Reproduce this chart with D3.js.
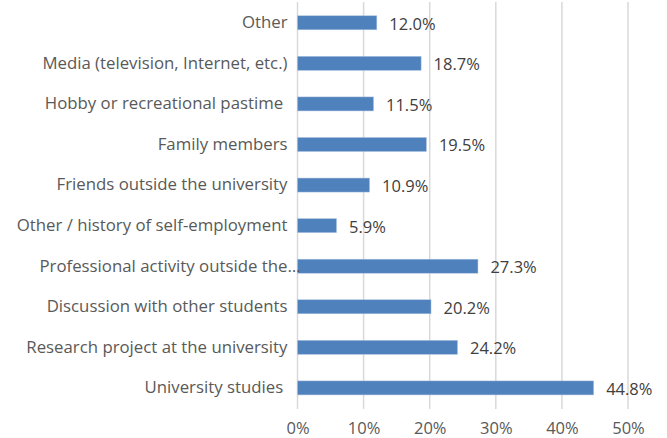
<!DOCTYPE html>
<html><head><meta charset="utf-8">
<script src="https://cdn.jsdelivr.net/npm/d3@7"></script>
<style>body{margin:0;background:#fff}svg{display:block}text{white-space:pre}</style>
</head><body>
<svg id="chart" width="667" height="438"></svg>
<script>
const categories = ["Other","Media (television, Internet, etc.)","Hobby or recreational pastime ","Family members","Friends outside the university","Other / history of self-employment","Professional activity outside the…","Discussion with other students","Research project at the university","University studies "];
const values = [12.0,18.7,11.5,19.5,10.9,5.9,27.3,20.2,24.2,44.8];
const tickValues = [0,10,20,30,40,50];

const svg = d3.select("#chart");
const x = d3.scaleLinear().domain([0,50]).range([297.5,628]);
const y = d3.scaleBand().domain(categories).range([2.4,408.3]).paddingInner(0.655).paddingOuter(0.33);
const font = "'Open Sans', sans-serif";

// grid
svg.append("g").selectAll("line").data(tickValues).join("line")
  .attr("x1",d=>x(d)).attr("x2",d=>x(d)).attr("y1",2).attr("y2",409)
  .attr("stroke","#d9d9d9").attr("stroke-width",1.5);

// x axis labels
const xa = svg.append("g").attr("transform","translate(0,409)")
  .call(d3.axisBottom(x).tickValues(tickValues).tickFormat(d=>d+"%").tickSize(0).tickPadding(13));
xa.select(".domain").remove();
xa.selectAll("text").attr("font-family",font).attr("font-size",16.5).attr("fill","#595959");

// bars
svg.append("g").selectAll("rect").data(values).join("rect")
  .attr("x",x(0)).attr("y",(d,i)=>y(categories[i]))
  .attr("width",d=>x(d)-x(0)).attr("height",y.bandwidth())
  .attr("fill","#4f81bd").attr("stroke","#a9c1e0").attr("stroke-width",0.5);

// category labels
const ya = svg.append("g").attr("transform",`translate(${x(0)},0)`)
  .call(d3.axisLeft(y).tickSize(0).tickPadding(10));
ya.select(".domain").remove();
ya.selectAll("text").attr("font-family",font).attr("font-size",16.8).attr("fill","#595959")
  .attr("dx",d=>d.endsWith("…")?13:0);

// value labels
svg.append("g").selectAll("text").data(values).join("text")
  .attr("x",d=>x(d)+12.5).attr("y",(d,i)=>y(categories[i])+y.bandwidth()/2)
  .attr("dy","0.42em").attr("font-family",font).attr("font-size",16.5).attr("fill","#404040")
  .text(d=>d.toFixed(1)+"%");
</script>
</body></html>
